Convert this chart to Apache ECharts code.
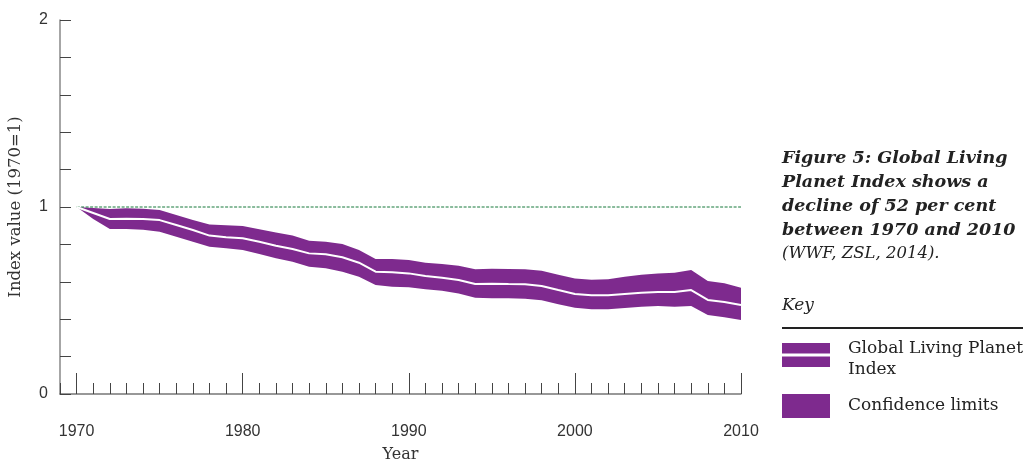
<!DOCTYPE html>
<html>
<head>
<meta charset="utf-8">
<script src="https://cdn.jsdelivr.net/npm/echarts@6/dist/echarts.min.js"></script>
<style>
html,body{margin:0;padding:0;background:#fff;}
#main{width:1025px;height:460px;}
</style>
</head>
<body>
<div id="main"></div>
<script>
const years = [1970,1971,1972,1973,1974,1975,1976,1977,1978,1979,1980,1981,1982,1983,1984,1985,1986,1987,1988,1989,1990,1991,1992,1993,1994,1995,1996,1997,1998,1999,2000,2001,2002,2003,2004,2005,2006,2007,2008,2009,2010];
const upperLimit = [1.000,0.995,0.989,0.993,0.991,0.984,0.957,0.930,0.907,0.902,0.898,0.881,0.863,0.847,0.820,0.814,0.802,0.770,0.722,0.722,0.717,0.702,0.695,0.686,0.667,0.670,0.668,0.667,0.659,0.638,0.617,0.611,0.613,0.627,0.638,0.645,0.649,0.663,0.604,0.592,0.568];
const indexValue = [1.000,0.968,0.936,0.937,0.936,0.930,0.904,0.877,0.847,0.838,0.833,0.814,0.793,0.775,0.752,0.747,0.731,0.702,0.654,0.651,0.645,0.631,0.622,0.610,0.588,0.590,0.588,0.587,0.578,0.556,0.535,0.528,0.528,0.535,0.542,0.545,0.545,0.556,0.503,0.492,0.476];
const lowerLimit = [1.000,0.936,0.882,0.882,0.879,0.868,0.841,0.814,0.788,0.779,0.770,0.749,0.726,0.707,0.681,0.672,0.654,0.627,0.583,0.574,0.571,0.560,0.552,0.538,0.515,0.512,0.512,0.510,0.501,0.480,0.461,0.453,0.453,0.460,0.467,0.471,0.467,0.471,0.422,0.410,0.396];
const yTickLabels = ['0', '1', '2'];
const baselineYears = ['1970', '2010'];
const baselineValue = 1;

const PURPLE = '#7e2a8e';
const chart = echarts.init(document.getElementById('main'));
const serif = '"DejaVu Serif", serif';
const sans = '"Liberation Sans", Arial, sans-serif';

// axis categories: one empty year slot before 1970 so the series starts inset from the y-axis
const cats = [String(years[0] - 1)].concat(years.map(String));
const pad = v => ['-'].concat(v);
const isDecade = (idx, val) => Number(val) % 10 === 0;

chart.setOption({
  animation: false,
  backgroundColor: '#fff',
  grid: {left: 60, right: 284, top: 20, bottom: 66, containLabel: false, outerBoundsMode: 'none'},
  xAxis: [
    {
      type: 'category', data: cats, boundaryGap: false, position: 'bottom',
      axisLine: {show: true, lineStyle: {color: '#777', width: 1.5}},
      axisTick: {show: true, inside: true, length: 11, interval: 0, lineStyle: {color: '#444', width: 1}},
      axisLabel: {show: true, margin: 30, interval: isDecade, fontFamily: sans, fontSize: 16, color: '#333'},
      splitLine: {show: false},
      name: 'Year', nameLocation: 'middle', nameGap: 53,
      nameTextStyle: {fontFamily: serif, fontSize: 16, color: '#333', verticalAlign: 'top'}
    },
    {
      type: 'category', data: cats, boundaryGap: false, position: 'bottom',
      axisLine: {show: false},
      axisTick: {show: true, inside: true, length: 21, interval: isDecade, lineStyle: {color: '#444', width: 1}},
      axisLabel: {show: false},
      splitLine: {show: false}
    }
  ],
  yAxis: {
    type: 'value', min: 0, max: 2, interval: 0.2,
    axisLine: {show: true, lineStyle: {color: '#888', width: 1.5}},
    axisTick: {show: true, inside: true, length: 11, lineStyle: {color: '#444', width: 1}},
    axisLabel: {margin: 12, fontFamily: sans, fontSize: 16, color: '#333',
      formatter: v => { const s = String(Math.round(v)); return (Math.abs(v - Math.round(v)) < 1e-6 && yTickLabels.includes(s)) ? s : ''; }},
    splitLine: {show: false},
    name: 'Index value (1970=1)', nameLocation: 'middle', nameGap: 36,
    nameTextStyle: {fontFamily: serif, fontSize: 16.5, color: '#333'}
  },
  series: [
    {
      name: 'lower', type: 'line', stack: 'ci', symbol: 'none', silent: true,
      data: pad(lowerLimit),
      lineStyle: {opacity: 0, width: 0}
    },
    {
      name: 'Confidence limits', type: 'line', stack: 'ci', symbol: 'none', silent: true,
      data: pad(upperLimit.map((u, i) => +(u - lowerLimit[i]).toFixed(4))),
      lineStyle: {opacity: 0, width: 0},
      areaStyle: {color: PURPLE, opacity: 1}
    },
    {
      name: 'Global Living Planet Index', type: 'line', symbol: 'none', silent: true,
      data: pad(indexValue),
      lineStyle: {color: '#fff', width: 2}, z: 5
    },
    {
      name: 'baseline', type: 'line', symbol: 'none', silent: true,
      data: baselineYears.map(y => [y, baselineValue]),
      lineStyle: {color: '#16783a', width: 1, type: [3, 1.5]}, z: 4
    }
  ],
  graphic: [
    {type: 'text', left: 782, top: 149, style: {text: 'Figure 5: Global Living', font: 'italic bold 17.5px ' + serif, fill: '#222'}},
    {type: 'text', left: 782, top: 173, style: {text: 'Planet Index shows a', font: 'italic bold 17.5px ' + serif, fill: '#222'}},
    {type: 'text', left: 782, top: 197, style: {text: 'decline of 52 per cent', font: 'italic bold 17.5px ' + serif, fill: '#222'}},
    {type: 'text', left: 782, top: 221, style: {text: 'between 1970 and 2010', font: 'italic bold 17.5px ' + serif, fill: '#222'}},
    {type: 'text', left: 782, top: 245, style: {text: '(WWF, ZSL, 2014).', font: 'italic 16.5px ' + serif, fill: '#222'}},
    {type: 'text', left: 782, top: 297, style: {text: 'Key', font: 'italic 17px ' + serif, fill: '#222'}},
    {type: 'line', shape: {x1: 782, y1: 328, x2: 1023, y2: 328}, style: {stroke: '#222', lineWidth: 2}},
    {type: 'rect', shape: {x: 782, y: 343, width: 48, height: 24}, style: {fill: PURPLE}},
    {type: 'rect', shape: {x: 782, y: 353.5, width: 48, height: 3}, style: {fill: '#fff'}},
    {type: 'text', left: 848, top: 340, style: {text: 'Global Living Planet', font: '17px ' + serif, fill: '#222'}},
    {type: 'text', left: 848, top: 361, style: {text: 'Index', font: '17px ' + serif, fill: '#222'}},
    {type: 'rect', shape: {x: 782, y: 394, width: 48, height: 24}, style: {fill: PURPLE}},
    {type: 'text', left: 848, top: 397, style: {text: 'Confidence limits', font: '17px ' + serif, fill: '#222'}}
  ]
});
</script>
</body>
</html>
